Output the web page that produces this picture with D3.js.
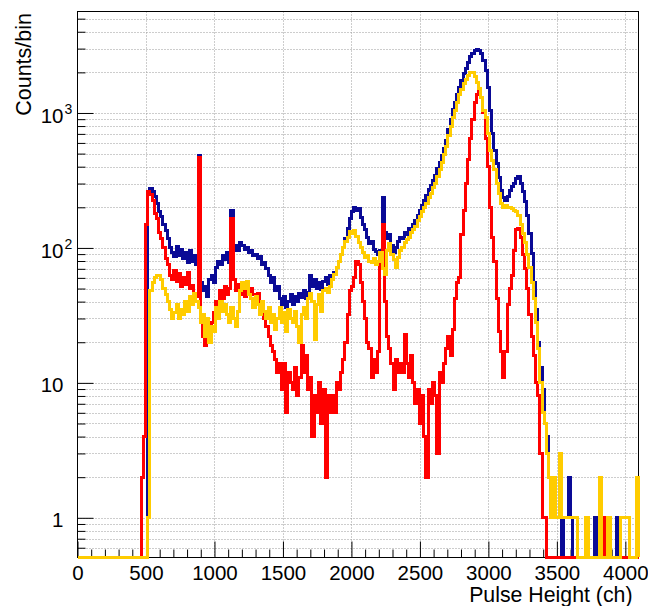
<!DOCTYPE html>
<html>
<head>
<meta charset="utf-8">
<script src="https://cdn.jsdelivr.net/npm/d3@7"></script>
<style>
    body { margin: 0; background: #fff; }
    svg { display: block; }
    text { font-family: "Liberation Sans", Arial, Helvetica, sans-serif; fill: #000; }
</style>
</head>
<body>
<svg id="chart" width="648" height="606"></svg>
<script>

// histogram binning: 256 bins of 16 channels, counts listed from bin 28 (ch 448) on
const binWidth = 16;
const nBins = 256;
const firstBin = 28;

const blueCounts = [
    0, 0, 0, 0, 259, 277, 262, 240, 215, 185,          // ch 448
    170, 150, 135, 118, 100, 92, 86, 102, 88, 97,      // ch 608
    84, 92, 78, 95, 80, 88, 76, 480, 55, 48,           // ch 768
    52, 44, 58, 62, 55, 72, 80, 76, 88, 82,            // ch 928
    92, 78, 190, 95, 105, 96, 110, 104, 98, 101,       // ch 1088
    92, 96, 88, 90, 84, 86, 75, 78, 70, 62,            // ch 1248
    55, 60, 48, 52, 42, 38, 44, 36, 40, 45,            // ch 1408
    38, 44, 40, 46, 43, 48, 42, 47, 62, 52,            // ch 1568
    58, 50, 55, 49, 56, 60, 54, 62, 58, 66,            // ch 1728
    72, 80, 90, 100, 118, 140, 165, 185, 200, 190,     // ch 1888
    195, 168, 150, 138, 120, 108, 112, 98, 94, 90,     // ch 2048
    96, 236, 130, 118, 125, 105, 92, 100, 112, 120,    // ch 2208
    118, 130, 126, 140, 135, 150, 160, 175, 190, 205,  // ch 2368
    225, 245, 270, 290, 315, 345, 385, 430, 480, 545,  // ch 2528
    620, 760, 900, 1060, 1200, 1380, 1540, 1740, 1950, 2150, // ch 2688
    2380, 2600, 2780, 2900, 2950, 2900, 2750, 2450, 2080, 1550, // ch 2848
    1050, 700, 530, 420, 335, 265, 237, 225, 240, 266, // ch 3008
    283, 300, 325, 340, 300, 260, 220, 175, 128, 91,   // ch 3168
    55, 35, 20, 13, 9, 5, 4, 2, 1, 1,                  // ch 3328
    1, 1, 1, 0, 1, 1, 2, 1, 0, 0,                      // ch 3488
    0, 0, 0, 0, 0, 0, 0, 0, 1, 0,                      // ch 3648
    0, 0, 0, 0, 0, 0, 0, 0, 1, 0,                      // ch 3808
    0, 0, 0, 0, 0, 0, 0, 0                             // ch 3968
];

const redCounts = [
    0, 2, 4, 150, 262, 250, 225, 180, 165, 130,
    118, 100, 84, 76, 62, 58, 68, 56, 65, 52,
    60, 54, 66, 50, 53, 46, 44, 470, 32, 22,
    19, 24, 20, 28, 33, 40, 36, 48, 42, 52,
    45, 50, 165, 58, 48, 54, 45, 50, 44, 52,
    47, 50, 45, 43, 46, 40, 34, 30, 26, 22,
    19, 17, 15, 12, 14, 9, 14, 6, 12, 10,
    9, 13, 8, 11, 19, 12, 16, 9, 11, 4,
    8, 6, 10, 5, 9, 2, 8, 6, 8, 6,
    10, 9, 12, 15, 20, 32, 48, 52, 60, 80,
    75, 55, 40, 30, 20, 18, 11, 15, 12, 17,
    85, 150, 40, 22, 18, 14, 9, 15, 12, 14,
    12, 23, 14, 11, 16, 10, 7, 9, 5, 8,
    4, 2, 9, 7, 10, 8, 3, 12, 10, 14,
    18, 22, 16, 25, 42, 55, 60, 125, 190, 300,
    450, 650, 900, 1200, 1380, 1450, 1300, 1000, 650, 400,
    200, 120, 80, 42, 24, 17, 11, 17, 38, 50,
    62, 96, 138, 140, 120, 90, 70, 50, 32, 22,
    16, 10, 8, 3, 1, 1, 0, 0, 0, 0,
    0, 0, 0, 0, 0, 0, 0, 0, 0, 0,
    0, 0, 0, 0, 0, 0, 0, 0, 0, 0,
    0, 0, 1, 0, 0, 0, 0, 0, 0, 0,
    0, 0, 0, 0, 0, 0, 0, 0
];

const yellowCounts = [
    0, 0, 0, 0, 1, 48, 55, 60, 63, 62,
    58, 50, 45, 40, 35, 30, 33, 38, 30, 35,
    32, 40, 34, 44, 38, 46, 40, 36, 28, 32,
    22, 30, 20, 26, 24, 36, 30, 40, 34, 38,
    32, 28, 36, 30, 26, 34, 48, 55, 50, 56,
    45, 42, 36, 44, 38, 32, 40, 34, 30, 36,
    28, 32, 25, 30, 36, 28, 33, 24, 35, 30,
    28, 34, 26, 20, 32, 36, 30, 42, 46, 40,
    21, 38, 45, 34, 48, 50, 47, 52, 58, 64,
    72, 80, 90, 100, 112, 120, 132, 128, 135, 122,
    110, 100, 92, 85, 88, 80, 78, 84, 76, 80,
    92, 70, 64, 95, 108, 90, 82, 72, 85, 96,
    100, 110, 116, 120, 130, 138, 145, 160, 170, 185,
    200, 215, 235, 255, 280, 300, 340, 380, 430, 490,
    560, 680, 800, 920, 1050, 1200, 1360, 1500, 1640, 1760,
    1900, 2000, 1980, 1850, 1680, 1520, 1300, 1050, 930, 700,
    530, 445, 380, 300, 255, 215, 200, 205, 198, 200,
    195, 190, 185, 175, 150, 128, 110, 90, 72, 55,
    42, 28, 18, 10, 6, 5, 3, 2, 1, 2,
    1, 1, 3, 1, 1, 1, 1, 1, 1, 1,
    0, 0, 0, 0, 1, 0, 0, 0, 0, 0,
    2, 0, 0, 0, 1, 0, 0, 0, 0, 0,
    1, 1, 1, 1, 0, 0, 0, 2
];

// axis ticks
const xMajorTicks = [0, 500, 1000, 1500, 2000, 2500, 3000, 3500, 4000];
const yMajorTicks = [1, 10, 100, 1000];
const yTickLabels = [
    { base: "1", exp: "" },
    { base: "10", exp: "" },
    { base: "10", exp: "2" },
    { base: "10", exp: "3" }
];

const series = [
    { name: "blue", color: "#0a0a96", counts: blueCounts },
    { name: "red", color: "#ff0000", counts: redCounts },
    { name: "yellow", color: "#ffcc00", counts: yellowCounts }
];

// frame edges
const plotLeft = 77.5, plotRight = 638.5, plotTop = 11.5, plotBottom = 557.5;

const svg = d3.select("#chart");

const x = d3.scaleLinear()
    .domain([0, nBins * binWidth])
    .range([plotLeft, plotRight]);

const y = d3.scaleLog()
    .domain([0.508, 5650])
    .range([plotBottom, plotTop]);

// minor tick values
const xMinorTicks = d3.range(100, 4100, 100).filter(function (v) { return v % 500 !== 0; });
let yMinorTicks = [];
[0.1, 1, 10, 100, 1000].forEach(function (dec) {
    for (let k = 2; k <= 9; k++) {
        const v = k * dec;
        if (v > y.domain()[0] && v < y.domain()[1]) yMinorTicks.push(v);
    }
});

//grid lines (dotted)
const grid = svg.append("g").attr("class", "grid");

grid.selectAll(".vgrid")
    .data(xMajorTicks.filter(function (v) { return v > 0; }))
    .enter()
    .append("line")
    .attr("x1", function (d) { return Math.round(x(d)) + 0.5; })
    .attr("x2", function (d) { return Math.round(x(d)) + 0.5; })
    .attr("y1", plotTop)
    .attr("y2", plotBottom)
    .attr("stroke", "#9a9a9a")
    .attr("stroke-width", 1)
    .attr("stroke-dasharray", "1,2");

grid.selectAll(".hgrid")
    .data(yMajorTicks.concat(yMinorTicks))
    .enter()
    .append("line")
    .attr("x1", plotLeft)
    .attr("x2", plotRight)
    .attr("y1", function (d) { return Math.round(y(d)) + 0.5; })
    .attr("y2", function (d) { return Math.round(y(d)) + 0.5; })
    .attr("stroke", "#9a9a9a")
    .attr("stroke-width", 1)
    .attr("stroke-dasharray", "1,2");

// x axis, ticks pointing into the frame
const xAxis = svg.append("g")
    .attr("transform", "translate(0," + plotBottom + ")")
    .call(d3.axisBottom(x)
        .tickValues(xMajorTicks)
        .tickSize(-16)
        .tickPadding(8)
        .tickFormat(d3.format("d")));

xAxis.select(".domain").remove();
xAxis.selectAll("text")
    .attr("font-size", "20.5px")
    .attr("font-family", "Liberation Sans, Arial, sans-serif");

const xAxisMinor = svg.append("g")
    .attr("transform", "translate(0," + plotBottom + ")")
    .call(d3.axisBottom(x)
        .tickValues(xMinorTicks)
        .tickSize(-8)
        .tickFormat(""));
xAxisMinor.select(".domain").remove();

// y axis, ticks pointing into the frame
const yAxis = svg.append("g")
    .attr("transform", "translate(" + plotLeft + ",0)")
    .call(d3.axisLeft(y)
        .tickValues(yMajorTicks)
        .tickSize(-16)
        .tickFormat(""));
yAxis.select(".domain").remove();

const yAxisMinor = svg.append("g")
    .attr("transform", "translate(" + plotLeft + ",0)")
    .call(d3.axisLeft(y)
        .tickValues(yMinorTicks)
        .tickSize(-8)
        .tickFormat(""));
yAxisMinor.select(".domain").remove();

// y labels: 1, 10, 10^2, 10^3
const yLabels = svg.append("g").attr("class", "ylabels");
yMajorTicks.forEach(function (v, i) {
    const lab = yTickLabels[i];
    const yy = y(v);
    yLabels.append("text")
        .attr("x", 63.5)
        .attr("y", yy + (lab.exp ? 10 : 8.7))
        .attr("text-anchor", "end")
        .attr("font-size", "20.5px")
        .text(lab.base);
    if (lab.exp) {
        yLabels.append("text")
            .attr("x", 64.5)
            .attr("y", yy + 1)
            .attr("text-anchor", "start")
            .attr("font-size", "14px")
            .text(lab.exp);
    }
});

// frame box (drawn under the histograms, the zero lines sit on it)
svg.append("rect")
    .attr("x", plotLeft)
    .attr("y", plotTop)
    .attr("width", plotRight - plotLeft)
    .attr("height", plotBottom - plotTop)
    .attr("fill", "none")
    .attr("stroke", "#000")
    .attr("stroke-width", 1);

// histogram outlines as step lines
function stepPoints(counts) {
    const pts = [[0, 0]];
    for (let i = 0; i < nBins; i++) {
        const c = i >= firstBin ? (counts[i - firstBin] || 0) : 0;
        pts.push([i * binWidth, c]);
        pts.push([(i + 1) * binWidth, c]);
    }
    pts.push([nBins * binWidth, 0]);
    return pts;
}

const line = d3.line()
    .x(function (d) { return x(d[0]); })
    .y(function (d) { return d[1] > 0 ? y(d[1]) : plotBottom - 0.5; });

// only horizontal/vertical segments, so crisp edges keep the last colour clean on shared lines
svg.append("g")
    .attr("class", "hists")
    .selectAll("path")
    .data(series)
    .enter()
    .append("path")
    .attr("d", function (d) { return line(stepPoints(d.counts)); })
    .attr("fill", "none")
    .attr("stroke", function (d) { return d.color; })
    .attr("stroke-width", 3)
    .attr("stroke-linejoin", "miter")
    .attr("shape-rendering", "crispEdges");

// axis titles
svg.append("text")
    .attr("x", 632.5)
    .attr("y", 602)
    .attr("text-anchor", "end")
    .attr("font-size", "21.3px")
    .text("Pulse Height (ch)");

svg.append("text")
    .attr("transform", "translate(31,13) rotate(-90)")
    .attr("text-anchor", "end")
    .attr("font-size", "21.5px")
    .text("Counts/bin");

</script>
</body>
</html>
